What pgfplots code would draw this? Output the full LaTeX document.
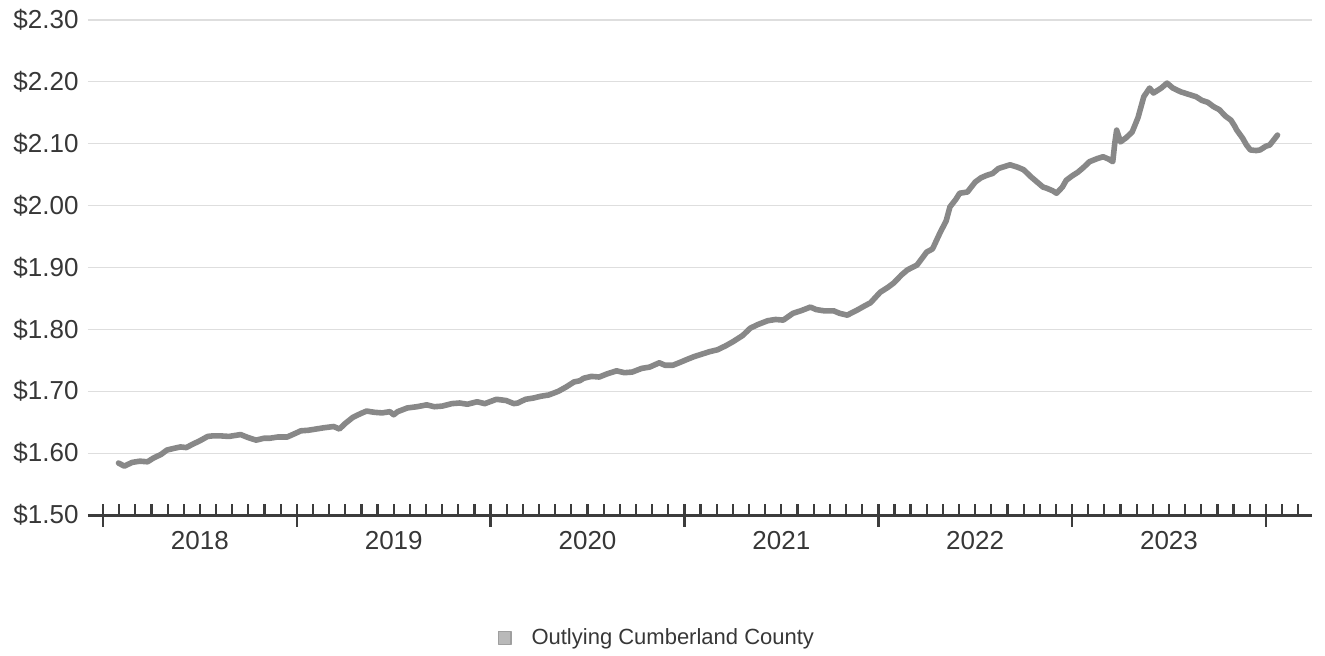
\documentclass[border=0pt]{standalone}
\usepackage{pgfplots}
\pgfplotsset{compat=1.18}
\usepackage{fontspec}
\setmainfont{Liberation Sans}

\definecolor{seriesgray}{RGB}{136,136,136}
\definecolor{axisgray}{RGB}{60,60,60}
\definecolor{gridgray}{RGB}{222,222,222}
\definecolor{labelgray}{RGB}{55,55,55}

% x values are years elapsed since 1 January 2018
\begin{document}
\begin{tikzpicture}
\begin{axis}[
  scale only axis,
  width=612pt, height=247.5pt,
  xmin=-0.0774, xmax=6.238,
  ymin=1.5, ymax=2.3,
  clip=false,
  axis x line=bottom,
  axis y line=left,
  x axis line style={-, draw=axisgray, line width=1.5pt},
  y axis line style={draw=none},
  ytick={1.5,1.6,1.7,1.8,1.9,2.0,2.1,2.2,2.3},
  yticklabels={\$1.50,\$1.60,\$1.70,\$1.80,\$1.90,\$2.00,\$2.10,\$2.20,\$2.30},
  ytick style={draw=none},
  ymajorgrids,
  grid style={gridgray, line width=0.6pt},
  xtick={0.5,1.5,2.5,3.5,4.5,5.5},
  xticklabels={2018,2019,2020,2021,2022,2023},
  major tick length=0pt,
  minor xtick={-0.0833333,0,...,6.26},
  minor tick length=5.5pt,
  tick align=inside,
  minor x tick style={draw=axisgray, line width=1.1pt},
  tick label style={font=\fontsize{13}{15}\selectfont, text=labelgray},
  yticklabel style={xshift=-1.2pt},
  xticklabel style={yshift=-4.5pt},
  legend style={at={(0.4655,-0.248)}, anchor=center, draw=none, fill=none,
    font=\fontsize{11}{13}\selectfont, text=labelgray,
    /tikz/every odd column/.append style={column sep=8pt}},
  legend image code/.code={\draw[fill=gray!55, draw=gray!75, line width=0.6pt] (0pt,-3.2pt) rectangle (6.4pt,3.2pt);},
]
\addplot[seriesgray, line width=2.8pt, line join=round, line cap=round] coordinates {
(0.08,1.584) (0.11,1.579) (0.15,1.585) (0.19,1.587) (0.23,1.586)
(0.26,1.592) (0.30,1.598) (0.33,1.605) (0.37,1.608) (0.40,1.610)
(0.43,1.609) (0.46,1.614) (0.50,1.620) (0.54,1.627) (0.57,1.628)
(0.60,1.628) (0.65,1.627) (0.71,1.630) (0.75,1.625) (0.79,1.621)
(0.83,1.624) (0.86,1.624) (0.90,1.626) (0.95,1.626) (1.00,1.633)
(1.02,1.636) (1.06,1.637) (1.10,1.639) (1.14,1.641) (1.19,1.643)
(1.22,1.639) (1.25,1.648) (1.29,1.658) (1.33,1.664) (1.36,1.668)
(1.40,1.666) (1.44,1.665) (1.48,1.667) (1.50,1.662) (1.52,1.667)
(1.57,1.673) (1.62,1.675) (1.67,1.678) (1.71,1.675) (1.75,1.676)
(1.80,1.680) (1.84,1.681) (1.88,1.679) (1.93,1.683) (1.97,1.680)
(2.03,1.687) (2.08,1.685) (2.12,1.680) (2.14,1.681) (2.18,1.687)
(2.22,1.689) (2.26,1.692) (2.30,1.694) (2.35,1.700) (2.39,1.707)
(2.43,1.715) (2.46,1.717) (2.48,1.721) (2.52,1.724) (2.56,1.723)
(2.60,1.728) (2.65,1.733) (2.69,1.730) (2.73,1.731) (2.78,1.737)
(2.82,1.739) (2.87,1.746) (2.90,1.742) (2.94,1.742) (2.98,1.747)
(3.01,1.751) (3.05,1.756) (3.08,1.759) (3.13,1.764) (3.17,1.767)
(3.21,1.773) (3.25,1.780) (3.30,1.790) (3.34,1.802) (3.38,1.808)
(3.43,1.814) (3.47,1.816) (3.51,1.815) (3.56,1.826) (3.60,1.830)
(3.65,1.836) (3.68,1.832) (3.72,1.830) (3.77,1.830) (3.80,1.826)
(3.84,1.823) (3.89,1.831) (3.93,1.838) (3.96,1.843) (4.01,1.860)
(4.05,1.868) (4.08,1.875) (4.12,1.888) (4.15,1.896) (4.20,1.904)
(4.25,1.925) (4.28,1.930) (4.32,1.957) (4.35,1.975) (4.37,1.998)
(4.40,2.010) (4.42,2.020) (4.46,2.022) (4.50,2.038) (4.53,2.045)
(4.56,2.049) (4.59,2.052) (4.62,2.060) (4.65,2.063) (4.68,2.066)
(4.72,2.062) (4.75,2.058) (4.79,2.046) (4.82,2.038) (4.85,2.030)
(4.87,2.028) (4.90,2.024) (4.92,2.020) (4.95,2.030) (4.97,2.041)
(5.00,2.048) (5.03,2.054) (5.06,2.062) (5.09,2.071) (5.13,2.076)
(5.16,2.079) (5.19,2.075) (5.21,2.071) (5.22,2.100) (5.23,2.122)
(5.25,2.103) (5.28,2.110) (5.31,2.119) (5.34,2.142) (5.37,2.176)
(5.40,2.190) (5.42,2.182) (5.46,2.190) (5.49,2.198) (5.52,2.190)
(5.56,2.184) (5.60,2.180) (5.64,2.176) (5.67,2.170) (5.70,2.167)
(5.73,2.160) (5.76,2.155) (5.79,2.145) (5.82,2.138) (5.84,2.128)
(5.85,2.122) (5.88,2.109) (5.90,2.098) (5.92,2.090) (5.95,2.089)
(5.97,2.090) (6.00,2.096) (6.02,2.098) (6.04,2.106) (6.06,2.114)
};
\addlegendentry{Outlying Cumberland County}
% year boundary ticks crossing the axis line
\pgfplotsinvokeforeach{0,1,2,3,4,5,6}{
  \draw[axisgray, line width=1.3pt] ([yshift=5.5pt]axis cs:#1,1.5) -- ([yshift=-6pt]axis cs:#1,1.5);
}
\end{axis}
\path ([shift={(-44pt,-69.5pt)}]current axis.south west) rectangle ([shift={(6.5pt,10pt)}]current axis.north east);
\end{tikzpicture}
\end{document}
